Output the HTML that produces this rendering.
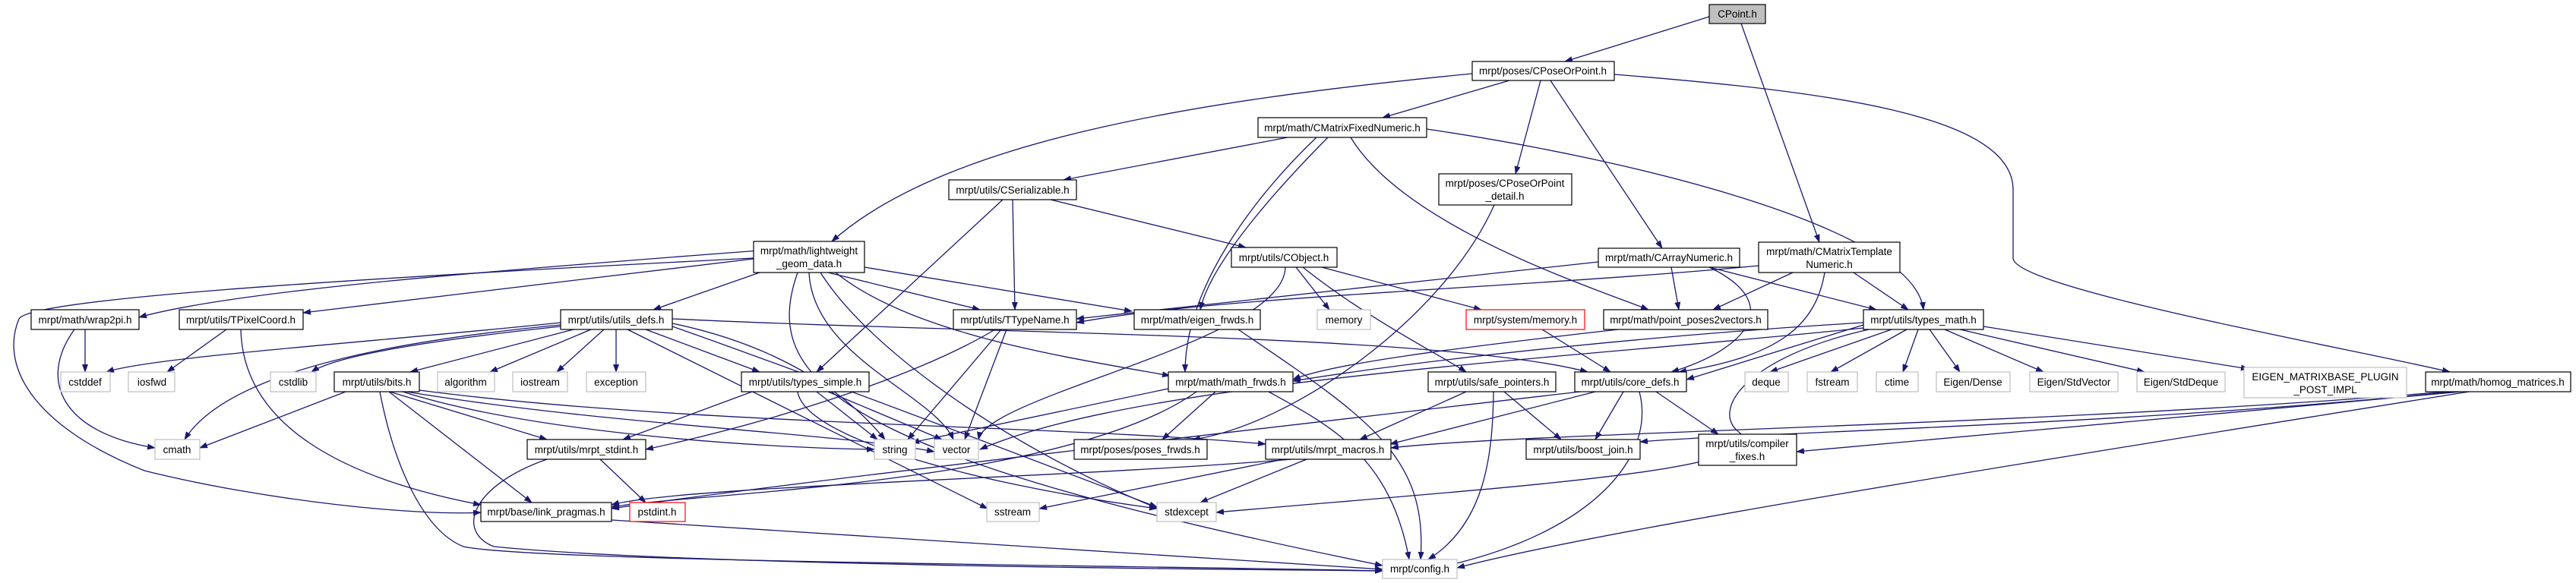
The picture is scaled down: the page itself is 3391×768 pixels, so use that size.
<!DOCTYPE html>
<html><head><meta charset="utf-8"><style>
html,body{margin:0;padding:0;background:#fff;}
svg{display:block;}
text{font-family:"Liberation Sans",sans-serif;font-size:13.5px;fill:#000;}
.e{fill:none;stroke:#191970;stroke-width:1.3;marker-end:url(#a);}
.n{fill:#fff;stroke:#000;stroke-width:1.2;}
.x{fill:#fff;stroke:#bfbfbf;stroke-width:1.2;}
.r{fill:#fff;stroke:#ff0000;stroke-width:1.2;}
</style></head><body>
<svg width="3391" height="768" viewBox="0 0 3391 768" xmlns="http://www.w3.org/2000/svg">
<defs><marker id="a" markerWidth="11" markerHeight="8" refX="10" refY="4" orient="auto" markerUnits="userSpaceOnUse"><path d="M0,0 L11,4 L0,8 z" fill="#191970"/></marker></defs>
<g>
<path class="e" d="M2250,22 L2060,81"/>
<path class="e" d="M2292,31 L2395,319"/>
<path class="e" d="M1987,106 L1820,155"/>
<path class="e" d="M1938,97 C1600,130 1250,180 1095,318"/>
<path class="e" d="M2028,106 L1995,229"/>
<path class="e" d="M2041,106 L2188,327"/>
<path class="e" d="M2125,98 C2400,120 2650,150 2650,250 L2650,340 C2650,380 3100,460 3225,490"/>
<path class="e" d="M1695,181 L1400,237"/>
<path class="e" d="M1733,181 C1650,260 1560,380 1560,490"/>
<path class="e" d="M1748,181 C1650,280 1590,360 1580,408"/>
<path class="e" d="M1778,181 C1850,300 2100,380 2170,408"/>
<path class="e" d="M1878,170 C2150,210 2520,300 2532,408"/>
<path class="e" d="M1383,263 L1640,326"/>
<path class="e" d="M1333,263 L1336,408"/>
<path class="e" d="M1320,263 L1075,490"/>
<path class="e" d="M1967,270 C1900,420 1700,560 1570,579"/>
<path class="e" d="M1000,330 C600,360 300,385 183,418"/>
<path class="e" d="M1000,340 L399,412"/>
<path class="e" d="M1000,359 L860,408"/>
<path class="e" d="M1090,359 L1290,408"/>
<path class="e" d="M1138,352 L1490,410"/>
<path class="e" d="M1100,359 C1200,440 1400,470 1540,495"/>
<path class="e" d="M1065,359 C1070,470 1230,520 1255,579"/>
<path class="e" d="M1080,359 C1150,470 1350,600 1525,670"/>
<path class="e" d="M992,340 C400,370 40,395 25,420 C0,480 40,560 190,620 C350,660 550,680 633,675"/>
<path class="e" d="M1050,359 C1000,500 1100,600 1820,745"/>
<path class="e" d="M1706,352 L1750,408"/>
<path class="e" d="M1740,352 L1950,408"/>
<path class="e" d="M1715,352 C1800,420 1900,470 1930,490"/>
<path class="e" d="M1692,352 C1690,450 1300,520 1288,579"/>
<path class="e" d="M2104,345 L1417,420"/>
<path class="e" d="M2200,352 L2210,408"/>
<path class="e" d="M2250,352 L2470,408"/>
<path class="e" d="M2250,352 C2350,400 2300,460 2200,490"/>
<path class="e" d="M2360,359 L2255,408"/>
<path class="e" d="M2440,359 L2512,408"/>
<path class="e" d="M2402,359 C2390,430 2340,470 2210,490"/>
<path class="e" d="M2315,350 C2000,380 1600,390 1417,425"/>
<path class="e" d="M112,434 L112,490"/>
<path class="e" d="M98,434 C50,500 80,570 204,590"/>
<path class="e" d="M298,434 L220,490"/>
<path class="e" d="M317,434 C320,560 450,630 633,665"/>
<path class="e" d="M738,425 C500,450 200,470 140,490"/>
<path class="e" d="M738,428 C400,460 280,520 243,579"/>
<path class="e" d="M738,430 C550,450 440,470 410,490"/>
<path class="e" d="M755,434 L540,490"/>
<path class="e" d="M778,434 L645,490"/>
<path class="e" d="M795,434 L733,490"/>
<path class="e" d="M811,434 L811,490"/>
<path class="e" d="M850,434 L1000,490"/>
<path class="e" d="M826,434 L1300,670"/>
<path class="e" d="M885,420 C1300,440 1900,440 2090,490"/>
<path class="e" d="M885,426 C1000,450 1100,500 1165,579"/>
<path class="e" d="M885,430 C1000,470 1240,560 1523,668"/>
<path class="e" d="M1318,434 L1195,579"/>
<path class="e" d="M1325,434 L1270,579"/>
<path class="e" d="M1310,434 C1200,500 1000,560 850,592"/>
<path class="e" d="M1630,434 C1800,550 1880,600 1870,737"/>
<path class="e" d="M2030,434 L2120,490"/>
<path class="e" d="M2130,434 C1900,460 1750,480 1702,500"/>
<path class="e" d="M2490,434 L2330,490"/>
<path class="e" d="M2510,434 L2410,490"/>
<path class="e" d="M2525,434 L2505,490"/>
<path class="e" d="M2540,434 L2580,490"/>
<path class="e" d="M2560,434 L2690,490"/>
<path class="e" d="M2580,434 L2823,490"/>
<path class="e" d="M2611,430 L2960,486"/>
<path class="e" d="M2453,428 L2220,500"/>
<path class="e" d="M2453,432 C2100,470 1500,500 1290,592"/>
<path class="e" d="M2453,425 C2200,440 1900,470 1702,502"/>
<path class="e" d="M2460,434 C2300,470 2250,540 2290,570 C2340,620 2000,640 1601,675"/>
<path class="e" d="M455,516 L263,590"/>
<path class="e" d="M513,516 L720,579"/>
<path class="e" d="M512,516 L700,662"/>
<path class="e" d="M500,516 C520,620 560,700 610,720 C700,740 1500,745 1820,752"/>
<path class="e" d="M530,516 C700,570 1000,590 1151,592"/>
<path class="e" d="M535,516 C800,560 1100,570 1230,595"/>
<path class="e" d="M552,514 C900,560 1400,560 1666,585"/>
<path class="e" d="M1075,516 L1155,579"/>
<path class="e" d="M1090,516 L1240,579"/>
<path class="e" d="M990,516 L820,579"/>
<path class="e" d="M1050,516 C1060,580 1300,640 1523,670"/>
<path class="e" d="M1600,516 L1530,579"/>
<path class="e" d="M1538,512 L1200,583"/>
<path class="e" d="M1670,516 C1750,560 1830,600 1855,737"/>
<path class="e" d="M1575,516 C1400,640 900,650 805,668"/>
<path class="e" d="M1930,516 L1790,579"/>
<path class="e" d="M1980,516 L2055,579"/>
<path class="e" d="M1966,516 C1965,600 1955,690 1880,737"/>
<path class="e" d="M2100,516 L1830,585"/>
<path class="e" d="M2137,516 L2100,579"/>
<path class="e" d="M2180,516 L2262,572"/>
<path class="e" d="M2158,516 C2180,600 2100,700 1905,745"/>
<path class="e" d="M2080,516 C1700,560 1000,640 805,670"/>
<path class="e" d="M3240,516 L2365,595"/>
<path class="e" d="M3220,516 C2700,560 2000,570 1831,590"/>
<path class="e" d="M3230,516 C2800,560 2300,570 2159,582"/>
<path class="e" d="M3250,516 C2600,620 2100,700 1918,748"/>
<path class="e" d="M790,605 L850,662"/>
<path class="e" d="M720,605 C620,640 600,700 650,720 C900,745 1600,750 1820,752"/>
<path class="e" d="M1700,605 C1400,630 900,640 805,665"/>
<path class="e" d="M1690,605 L1368,670"/>
<path class="e" d="M1720,605 L1580,662"/>
<path class="e" d="M805,685 L1820,750"/>
</g>
<g text-anchor="middle">
<rect x="2250" y="6" width="74" height="25" fill="#bfbfbf" stroke="#000" stroke-width="1.2"/><text x="2287" y="23">CPoint.h</text>
<rect class="n" x="1938" y="81" width="187" height="25"/><text x="2031" y="98">mrpt/poses/CPoseOrPoint.h</text>
<rect class="n" x="1656" y="155" width="222" height="26"/><text x="1767" y="173">mrpt/math/CMatrixFixedNumeric.h</text>
<rect class="n" x="1249" y="237" width="168" height="26"/><text x="1333" y="255">mrpt/utils/CSerializable.h</text>
<rect class="n" x="1894" y="229" width="175" height="41"/><text x="1981" y="246">mrpt/poses/CPoseOrPoint</text><text x="1981" y="263">_detail.h</text>
<rect class="n" x="992" y="318" width="146" height="41"/><text x="1065" y="335">mrpt/math/lightweight</text><text x="1065" y="352">_geom_data.h</text>
<rect class="n" x="1621" y="326" width="139" height="26"/><text x="1690" y="344">mrpt/utils/CObject.h</text>
<rect class="n" x="2104" y="327" width="186" height="25"/><text x="2197" y="344">mrpt/math/CArrayNumeric.h</text>
<rect class="n" x="2315" y="319" width="186" height="40"/><text x="2408" y="336">mrpt/math/CMatrixTemplate</text><text x="2408" y="353">Numeric.h</text>
<rect class="n" x="41" y="408" width="142" height="26"/><text x="112" y="426">mrpt/math/wrap2pi.h</text>
<rect class="n" x="236" y="408" width="163" height="26"/><text x="317" y="426">mrpt/utils/TPixelCoord.h</text>
<rect class="n" x="738" y="408" width="147" height="26"/><text x="811" y="426">mrpt/utils/utils_defs.h</text>
<rect class="n" x="1255" y="408" width="162" height="26"/><text x="1336" y="426">mrpt/utils/TTypeName.h</text>
<rect class="n" x="1493" y="408" width="166" height="26"/><text x="1576" y="426">mrpt/math/eigen_frwds.h</text>
<rect class="x" x="1734" y="408" width="70" height="26"/><text x="1769" y="426">memory</text>
<rect class="r" x="1930" y="408" width="156" height="26"/><text x="2008" y="426">mrpt/system/memory.h</text>
<rect class="n" x="2111" y="408" width="216" height="26"/><text x="2219" y="426">mrpt/math/point_poses2vectors.h</text>
<rect class="n" x="2453" y="408" width="158" height="26"/><text x="2532" y="426">mrpt/utils/types_math.h</text>
<rect class="x" x="80" y="490" width="65" height="26"/><text x="112" y="508">cstddef</text>
<rect class="x" x="169" y="490" width="61" height="26"/><text x="200" y="508">iosfwd</text>
<rect class="x" x="356" y="490" width="60" height="26"/><text x="386" y="508">cstdlib</text>
<rect class="n" x="440" y="490" width="112" height="26"/><text x="496" y="508">mrpt/utils/bits.h</text>
<rect class="x" x="576" y="490" width="75" height="26"/><text x="613" y="508">algorithm</text>
<rect class="x" x="675" y="490" width="72" height="26"/><text x="711" y="508">iostream</text>
<rect class="x" x="772" y="490" width="78" height="26"/><text x="811" y="508">exception</text>
<rect class="n" x="976" y="490" width="168" height="26"/><text x="1060" y="508">mrpt/utils/types_simple.h</text>
<rect class="n" x="1538" y="490" width="164" height="26"/><text x="1620" y="508">mrpt/math/math_frwds.h</text>
<rect class="n" x="1880" y="490" width="168" height="26"/><text x="1964" y="508">mrpt/utils/safe_pointers.h</text>
<rect class="n" x="2073" y="490" width="147" height="26"/><text x="2146" y="508">mrpt/utils/core_defs.h</text>
<rect class="x" x="2297" y="490" width="57" height="26"/><text x="2325" y="508">deque</text>
<rect class="x" x="2379" y="490" width="66" height="26"/><text x="2412" y="508">fstream</text>
<rect class="x" x="2470" y="490" width="55" height="26"/><text x="2497" y="508">ctime</text>
<rect class="x" x="2549" y="490" width="97" height="26"/><text x="2597" y="508">Eigen/Dense</text>
<rect class="x" x="2672" y="490" width="116" height="26"/><text x="2730" y="508">Eigen/StdVector</text>
<rect class="x" x="2813" y="490" width="116" height="26"/><text x="2871" y="508">Eigen/StdDeque</text>
<rect class="x" x="2954" y="484" width="214" height="40"/><text x="3061" y="501">EIGEN_MATRIXBASE_PLUGIN</text><text x="3061" y="518">_POST_IMPL</text>
<rect class="n" x="3193" y="490" width="191" height="26"/><text x="3288" y="508">mrpt/math/homog_matrices.h</text>
<rect class="x" x="204" y="579" width="59" height="26"/><text x="233" y="597">cmath</text>
<rect class="n" x="694" y="579" width="156" height="26"/><text x="772" y="597">mrpt/utils/mrpt_stdint.h</text>
<rect class="x" x="1151" y="579" width="54" height="26"/><text x="1178" y="597">string</text>
<rect class="x" x="1230" y="579" width="58" height="26"/><text x="1259" y="597">vector</text>
<rect class="n" x="1414" y="579" width="175" height="26"/><text x="1501" y="597">mrpt/poses/poses_frwds.h</text>
<rect class="n" x="1666" y="579" width="165" height="26"/><text x="1748" y="597">mrpt/utils/mrpt_macros.h</text>
<rect class="n" x="2009" y="579" width="150" height="26"/><text x="2084" y="597">mrpt/utils/boost_join.h</text>
<rect class="n" x="2236" y="572" width="129" height="41"/><text x="2300" y="589">mrpt/utils/compiler</text><text x="2300" y="606">_fixes.h</text>
<rect class="n" x="633" y="662" width="172" height="25"/><text x="719" y="679">mrpt/base/link_pragmas.h</text>
<rect class="r" x="829" y="662" width="73" height="25"/><text x="865" y="679">pstdint.h</text>
<rect class="x" x="1299" y="662" width="69" height="25"/><text x="1333" y="679">sstream</text>
<rect class="x" x="1523" y="662" width="78" height="25"/><text x="1562" y="679">stdexcept</text>
<rect class="x" x="1820" y="737" width="98" height="25"/><text x="1869" y="754">mrpt/config.h</text>
</g>
</svg>
</body></html>
